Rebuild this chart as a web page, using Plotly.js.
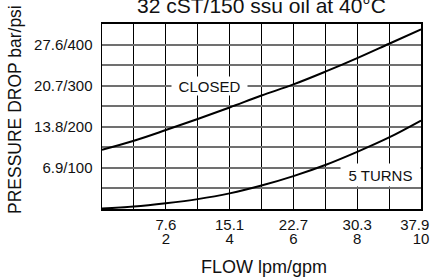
<!DOCTYPE html>
<html>
<head>
<meta charset="utf-8">
<script src="https://cdn.plot.ly/plotly-3.0.1.min.js"></script>
<style>html,body{margin:0;padding:0;background:#fff;}#chart{width:433px;height:279px;}</style>
</head>
<body>
<div id="chart"></div>
<script>
// Data (flow in gpm, pressure drop in psi)
const flowGpm = [0, 1, 2, 3, 4, 5, 6, 7, 8, 9, 10];
const closedPsi = [144, 166, 192, 219, 247, 276, 303, 334, 367, 402, 437];
const turns5Psi = [1, 6, 14, 24, 38, 57, 80, 107, 139, 174, 215];

const xGridVals = [0, 1, 2, 3, 4, 5, 6, 7, 8, 9, 10];
const xLpmText = ['', '', '7.6', '', '15.1', '', '22.7', '', '30.3', '', '37.9\u00A0\u00A0\u00A0'];
const xGpmText = ['', '', '2', '', '4', '', '6', '', '8', '', '10'];
const yGridVals = [0, 50, 100, 150, 200, 250, 300, 350, 400, 450];
const yTickText = ['', '', '6.9/100', '', '13.8/200', '', '20.7/300', '', '27.6/400', ''];

const FONT = 'Liberation Sans, Arial, Helvetica, sans-serif';
const TXT = '#111';

const traces = [
  {x: flowGpm, y: closedPsi, mode: 'lines', line: {color: '#000', width: 2, shape: 'spline'}, hoverinfo: 'skip', name: 'CLOSED'},
  {x: flowGpm, y: turns5Psi, mode: 'lines', line: {color: '#000', width: 2, shape: 'spline'}, hoverinfo: 'skip', name: '5 TURNS'},
  {x: [flowGpm[0]], y: [null], xaxis: 'x2', yaxis: 'y', mode: 'lines', hoverinfo: 'skip', showlegend: false}
];

const layout = {
  width: 433, height: 279,
  margin: {l: 102, r: 12, t: 24, b: 40, pad: 0},
  paper_bgcolor: '#fff', plot_bgcolor: '#fff',
  showlegend: false,
  font: {family: FONT, size: 15, color: TXT},
  title: {text: '32 cST/150 ssu oil at 40°C', font: {family: FONT, size: 21, color: TXT},
          xref: 'paper', x: 0.5, xanchor: 'center', yref: 'container', y: 0.98, yanchor: 'middle'},
  xaxis: {
    range: [0, 10], tickmode: 'array', tickvals: xGridVals, ticktext: xLpmText,
    showgrid: true, gridcolor: '#000', gridwidth: 1, zeroline: false,
    showline: true, linecolor: '#000', linewidth: 2, mirror: true,
    ticks: '', ticklabelstandoff: 1, ticklabeloverflow: 'allow',
    tickfont: {family: FONT, size: 15, color: TXT}, fixedrange: true
  },
  xaxis2: {
    overlaying: 'x', anchor: 'free', position: 0.0581, side: 'bottom', range: [0, 10],
    tickmode: 'array', tickvals: xGridVals, ticktext: xGpmText,
    showgrid: false, zeroline: false, showline: false, ticks: '',
    ticklabelstandoff: 1, ticklabeloverflow: 'allow',
    tickfont: {family: FONT, size: 15, color: TXT}, fixedrange: true
  },
  yaxis: {
    domain: [0.13953, 1],
    range: [0, 450], tickmode: 'array', tickvals: yGridVals, ticktext: yTickText,
    showgrid: true, gridcolor: '#707070', gridwidth: 2, zeroline: false,
    showline: true, linecolor: '#000', linewidth: 1.5, mirror: true,
    ticks: '', ticklabelstandoff: 5, tickfont: {family: FONT, size: 15, color: TXT}, fixedrange: true
  },
  annotations: [
    {text: 'CLOSED', x: 3.36, y: 300, xref: 'x', yref: 'y', showarrow: false,
     bgcolor: '#fff', width: 75, height: 18, borderpad: 0, font: {family: FONT, size: 15, color: TXT}},
    {text: '5 TURNS', x: 8.72, y: 83, xref: 'x', yref: 'y', showarrow: false,
     bgcolor: '#fff', width: 79, height: 22, borderpad: 0, font: {family: FONT, size: 15, color: TXT}},
    {text: 'PRESSURE DROP bar/psi', textangle: -90, x: -0.2727, y: 0.6, xref: 'paper', yref: 'paper',
     xanchor: 'center', yanchor: 'middle', showarrow: false, font: {family: FONT, size: 17.5, color: TXT}},
    {text: 'FLOW lpm/gpm', x: 0.508, y: -0.1302, xref: 'paper', yref: 'paper',
     xanchor: 'center', yanchor: 'middle', showarrow: false, font: {family: FONT, size: 18, color: TXT}}
  ]
};

Plotly.newPlot('chart', traces, layout, {staticPlot: true, displayModeBar: false});
</script>
</body>
</html>
